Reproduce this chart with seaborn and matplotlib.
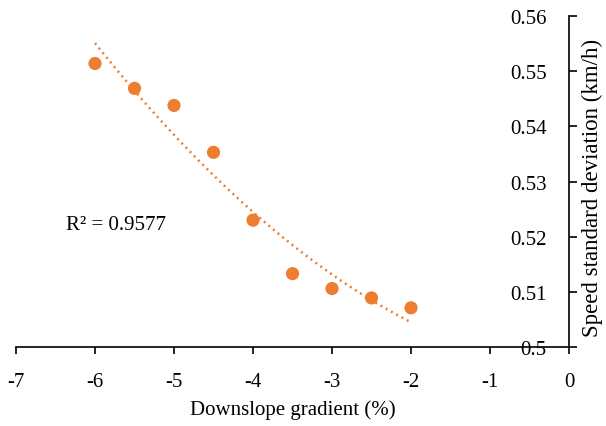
import matplotlib
matplotlib.use("Agg")
import matplotlib.pyplot as plt
import seaborn as sns
import numpy as np
import pandas as pd
from matplotlib.ticker import FuncFormatter

gradient = [-6, -5.5, -5, -4.5, -4, -3.5, -3, -2.5, -2]
speed_sd = [0.5514, 0.5469, 0.5438, 0.5353, 0.5230, 0.5133, 0.5106, 0.5089, 0.5071]
r2_label = "R² = 0.9577"
x_ticks = [-7, -6, -5, -4, -3, -2, -1, 0]
y_ticks = [0.50, 0.51, 0.52, 0.53, 0.54, 0.55, 0.56]

df = pd.DataFrame({"x": gradient, "y": speed_sd})

sns.set_style("white")
plt.rcParams["font.family"] = ["Liberation Serif", "DejaVu Serif"]
plt.rcParams["text.color"] = "black"
plt.rcParams["xtick.color"] = "black"
plt.rcParams["ytick.color"] = "black"
plt.rcParams["axes.labelcolor"] = "black"

color = "#ED7D31"
fig = plt.figure(figsize=(6.06, 4.27), dpi=100)
ax = fig.add_axes([0.0264, 0.185, 0.9126, 0.775])

sns.regplot(data=df, x="x", y="y", order=2, ci=None, scatter=False, ax=ax,
            line_kws=dict(color=color, linewidth=1.8, linestyle=(0, (0.8, 1.6))))
sns.scatterplot(data=df, x="x", y="y", ax=ax, color=color, s=90, edgecolor="none", zorder=3)

ax.set_xlim(-7, 0)
ax.set_ylim(0.5, 0.56)
ax.set_xticks(x_ticks)
ax.set_yticks(y_ticks)
ax.yaxis.set_major_formatter(FuncFormatter(lambda v, p: f"{v:g}"))
ax.xaxis.set_major_formatter(FuncFormatter(lambda v, p: f"{v:g}"))

for s in ["top", "right"]:
    ax.spines[s].set_visible(False)
ax.spines["left"].set_position(("data", 0))
for s in ["left", "bottom"]:
    ax.spines[s].set_color("black")
    ax.spines[s].set_linewidth(1.2)

ax.tick_params(axis="y", left=True, direction="in", length=6, width=1.2,
               labelsize=15, pad=16, color="black", labelcolor="black")
ax.tick_params(axis="x", bottom=True, direction="out", length=5, width=1.2,
               labelsize=15, pad=13, color="black", labelcolor="black")

ax.set_xlabel("Downslope gradient (%)", fontsize=15, labelpad=6, color="black")
ax.set_ylabel("")
fig.text(0.977, 0.56, "Speed standard deviation (km/h)", rotation=90,
         ha="center", va="center", fontsize=16.5, color="black")

ax.text(-6.37, 0.5223, r2_label, fontsize=15, ha="left", va="center", color="black")

fig.savefig("out.png", dpi=100)
